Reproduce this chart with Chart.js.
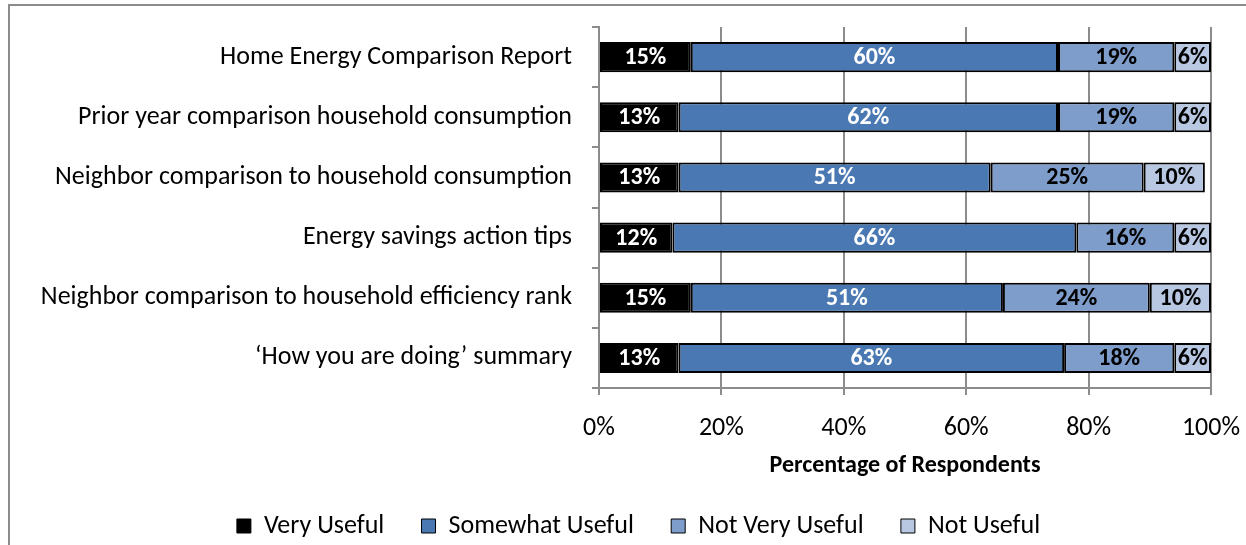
<!DOCTYPE html>
<html>
<head>
<meta charset="utf-8">
<script src="https://cdn.jsdelivr.net/npm/chart.js@4.4.1/dist/chart.umd.min.js"></script>
<style>
    html, body { margin: 0; padding: 0; background: #fff; overflow: hidden; }
    .frame {
        position: absolute;
        left: 8px;
        top: 4px;
        width: 1400px;
        height: 700px;
        border: 2px solid #8c8c8c;
    }
    .chart-container {
        position: absolute;
        left: 0;
        top: 0;
        width: 1246px;
        height: 545px;
    }
</style>
</head>
<body>
<div class="frame"></div>
<div class="chart-container">
    <canvas id="usefulnessChart"></canvas>
</div>
<script>
// Report features rated by respondents
const features = [
    'Home Energy Comparison Report',
    'Prior year comparison household consumption',
    'Neighbor comparison to household consumption',
    'Energy savings action tips',
    'Neighbor comparison to household efficiency rank',
    '\u2018How you are doing\u2019 summary'
];

const veryUseful = [15, 13, 13, 12, 15, 13];
const somewhatUseful = [60, 62, 51, 66, 51, 63];
const notVeryUseful = [19, 19, 25, 16, 24, 18];
const notUseful = [6, 6, 10, 6, 10, 6];

const xTicks = [0, 20, 40, 60, 80, 100];

const FONT = 'Carlito, Lato, "Open Sans", sans-serif';

// Percent labels drawn inside each segment
const segmentLabels = {
    id: 'segmentLabels',
    afterDatasetsDraw(chart) {
        const ctx = chart.ctx;
        ctx.save();
        ctx.font = 'bold 24px ' + FONT;
        ctx.textAlign = 'center';
        ctx.textBaseline = 'middle';
        chart.data.datasets.forEach((ds, i) => {
            const meta = chart.getDatasetMeta(i);
            ctx.fillStyle = ds.labelColor;
            meta.data.forEach((bar, j) => {
                const cx = (bar.x + bar.base) / 2;
                ctx.fillText(ds.data[j] + '%', cx, bar.y + 1);
            });
        });
        ctx.restore();
    }
};

// Nudge the legend right and down so it sits centred under the figure
const legendShift = {
    id: 'legendShift',
    afterLayout(chart) {
        const lg = chart.legend;
        lg.left += 18;
        lg.right += 18;
        lg.top += 4;
        lg.bottom += 4;
    }
};

const ctx = document.getElementById('usefulnessChart');
new Chart(ctx, {
    type: 'bar',
    data: {
        labels: features,
        datasets: [
            { label: 'Very Useful', data: veryUseful, backgroundColor: '#000000', labelColor: '#ffffff' },
            { label: 'Somewhat Useful', data: somewhatUseful, backgroundColor: '#4a78b2', labelColor: '#ffffff' },
            { label: 'Not Very Useful', data: notVeryUseful, backgroundColor: '#7e9dca', labelColor: '#000000' },
            { label: 'Not Useful', data: notUseful, backgroundColor: '#b9c8e2', labelColor: '#000000' }
        ].map(ds => Object.assign(ds, {
            borderColor: '#000000',
            borderWidth: 2,
            borderSkipped: false,
            barPercentage: 0.5,
            categoryPercentage: 1.0
        }))
    },
    options: {
        indexAxis: 'y',
        responsive: true,
        maintainAspectRatio: false,
        animation: false,
        layout: {
            padding: { top: 27, right: 35, left: 30, bottom: 0 }
        },
        plugins: {
            tooltip: { enabled: false },
            legend: {
                position: 'bottom',
                labels: {
                    color: '#000',
                    boxWidth: 14,
                    boxHeight: 14,
                    padding: 2,
                    font: { family: FONT, size: 26 },
                    generateLabels: chart => {
                        const items = Chart.defaults.plugins.legend.labels.generateLabels(chart);
                        return items.map((item, i) => Object.assign(item, {
                            lineWidth: 1,
                            text: i < items.length - 1 ? item.text + '      ' : item.text
                        }));
                    }
                }
            }
        },
        scales: {
            x: {
                stacked: true,
                min: 0,
                max: 100,
                afterBuildTicks: scale => {
                    scale.ticks = xTicks.map(v => ({ value: v }));
                },
                afterFit: scale => {
                    scale.height = 119;
                    scale.paddingLeft = 0;
                    scale.paddingRight = 0;
                },
                ticks: {
                    color: '#000',
                    padding: 18,
                    font: { family: FONT, size: 26 },
                    callback: v => v + '%'
                },
                grid: {
                    color: '#8c8c8c',
                    lineWidth: 2,
                    tickLength: 7
                },
                border: { color: '#8c8c8c', width: 2 },
                title: {
                    display: true,
                    text: 'Percentage of Respondents',
                    color: '#000',
                    font: { family: FONT, size: 24, weight: 'bold' },
                    padding: { top: 0, bottom: 27 }
                }
            },
            y: {
                stacked: true,
                afterFit: scale => {
                    scale.width = 599 - 30;
                    scale.paddingTop = 0;
                    scale.paddingBottom = 0;
                },
                ticks: {
                    color: '#000',
                    padding: 20,
                    font: { family: FONT, size: 26 }
                },
                grid: {
                    offset: true,
                    drawOnChartArea: false,
                    color: '#8c8c8c',
                    lineWidth: 2,
                    tickLength: 7
                },
                border: { color: '#8c8c8c', width: 2 }
            }
        }
    },
    plugins: [segmentLabels, legendShift]
});
</script>
</body>
</html>
